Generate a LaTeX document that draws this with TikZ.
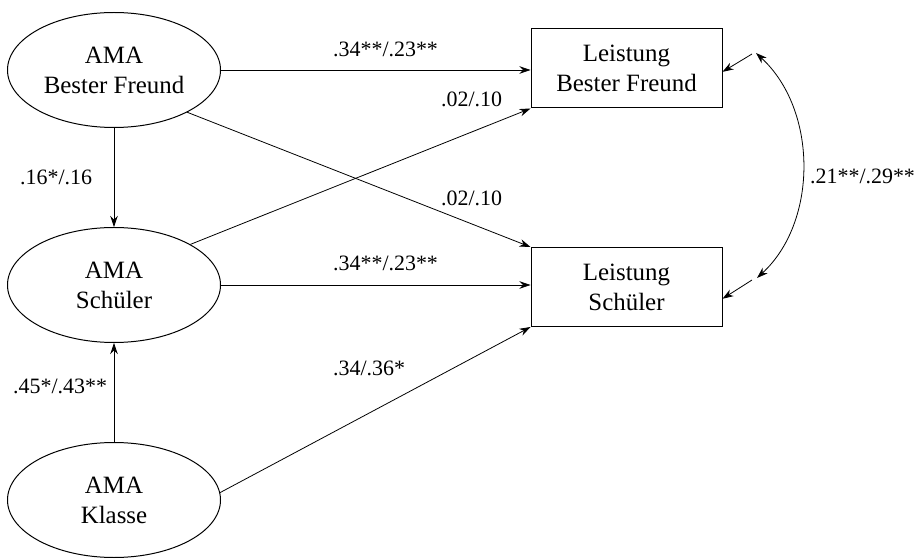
\documentclass[tikz,border=0pt]{standalone}
\usepackage{fontspec}
\setmainfont{Liberation Serif}
\usetikzlibrary{shapes.geometric,arrows.meta}
\tikzset{
  latent/.style={draw, line width=1pt, ellipse, minimum width=213bp, minimum height=115bp, inner sep=0pt, align=center, font=\fontsize{25}{30}\selectfont},
  observed/.style={draw, line width=1pt, rectangle, minimum width=191bp, minimum height=79bp, inner sep=0pt, align=center, font=\fontsize{25}{30}\selectfont},
  conn/.style={line width=0.8pt, -{Stealth[length=11bp,width=7.5bp,inset=3.5bp]}},
  dconn/.style={line width=0.8pt, {Stealth[length=11bp,width=7.5bp,inset=3.5bp]}-{Stealth[length=11bp,width=7.5bp,inset=3.5bp]}},
  lbl/.style={inner sep=0pt, anchor=base west, font=\fontsize{22}{26}\selectfont}
}
\begin{document}
\begin{tikzpicture}[x=1bp,y=-1bp]
\useasboundingbox (0,0) rectangle (915,559);
% latent variables
\node[latent] (e1) at (114,70) {AMA\\Bester Freund};
\node[latent] (e2) at (114,285) {AMA\\Sch\"uler};
\node[latent] (e3) at (114,500) {AMA\\Klasse};
% observed variables
\node[observed] (r1) at (626.5,68.5) {Leistung\\Bester Freund};
\node[observed] (r2) at (626.5,287) {Leistung\\Sch\"uler};
% paths
\draw[conn] (e1.east) -- (r1.west |- e1.east);
\draw[conn] (e1.-30) -- (r2.north west);
\draw[conn] (e2.28) -- (r1.south west);
\draw[conn] (e2.east) -- (r2.west |- e2.east);
\draw[conn] (e3.4) -- (r2.south west);
\draw[conn] (e1.south) -- (e2.north);
\draw[conn] (e3.north) -- (e2.south);
% residuals and correlation
\coordinate (u1) at (752,54);
\coordinate (u2) at (752,280);
\coordinate (c1) at (756,53);
\coordinate (c2) at (757,278);
\draw[conn] (u1) -- (r1.-2);
\draw[conn] (u2) -- (r2.-7);
\draw[dconn] (c1) .. controls (818,110) and (818,222) .. (c2);
% labels
\node[lbl] (l1) at (333,57) {.34**/.23**};
\node[lbl] (l2) at (441,107) {.02/.10};
\node[lbl] (l3) at (441,206) {.02/.10};
\node[lbl] (l4) at (333,271) {.34**/.23**};
\node[lbl] (l5) at (333,375) {.34/.36*};
\node[lbl] (l6) at (20,185) {.16*/.16};
\node[lbl] (l7) at (13,393) {.45*/.43**};
\node[lbl] (l8) at (810,184) {.21**/.29**};
\end{tikzpicture}
\end{document}
